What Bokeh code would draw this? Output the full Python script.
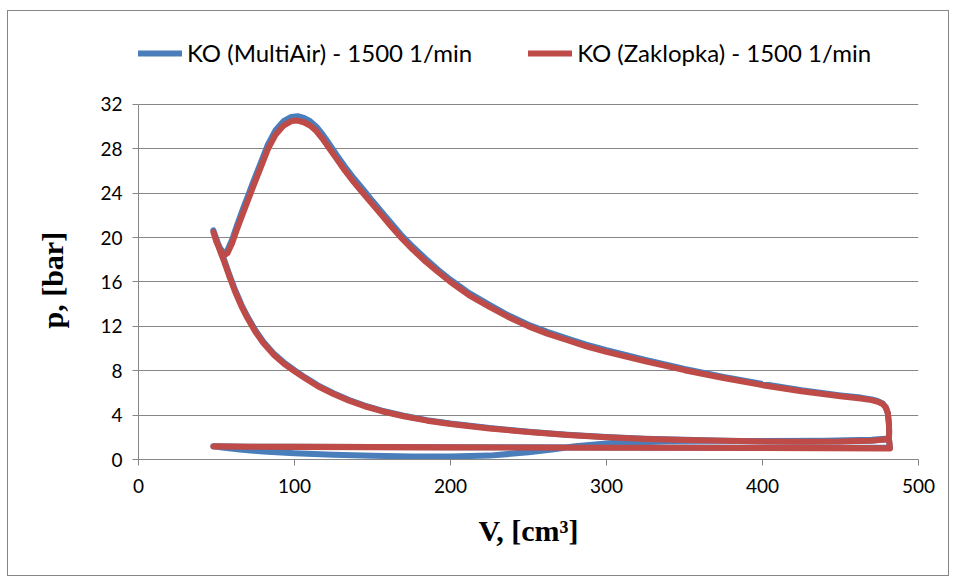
from bokeh.plotting import figure
from bokeh.models import Range1d, FixedTicker, Legend, LegendItem, Title
from bokeh.embed import file_html
from bokeh.resources import INLINE

# ---- data ----
series_names = ["KO (MultiAir) - 1500 1/min", "KO (Zaklopka) - 1500 1/min"]
x_ticks = [0, 100, 200, 300, 400, 500]
y_ticks = [0, 4, 8, 12, 16, 20, 24, 28, 32]

# compression stroke (BDC -> TDC)
comp_V = [481, 478, 470, 450, 425, 400, 375, 350, 325, 300, 275, 252, 225, 200, 185, 170, 156, 145, 135, 125,
          115, 107, 100, 94, 87, 80, 75, 70, 66, 62, 58.5, 55, 52, 50, 48]
comp_p_red = [1.9, 1.8, 1.7, 1.62, 1.6, 1.62, 1.68, 1.75, 1.85, 2.0, 2.2, 2.45, 2.8, 3.2, 3.5, 3.9, 4.35, 4.8, 5.3, 5.9,
              6.6, 7.3, 7.95, 8.55, 9.4, 10.5, 11.5, 12.7, 13.8, 15.1, 16.4, 17.8, 18.9, 19.7, 20.5]
comp_p_blue = [1.9, 1.8, 1.72, 1.64, 1.62, 1.64, 1.7, 1.77, 1.88, 2.03, 2.23, 2.48, 2.83, 3.24, 3.55, 3.95, 4.4, 4.86, 5.36, 5.97,
               6.68, 7.38, 8.04, 8.65, 9.5, 10.62, 11.63, 12.84, 13.95, 15.25, 16.55, 17.95, 19.05, 19.85, 20.65]

# combustion + expansion + blowdown (TDC -> BDC)
exp_V = [48, 50, 52.5, 55, 57, 60, 63, 67, 70, 73.5, 78, 83, 88, 93, 98, 102, 106, 110, 114, 118,
         122, 127, 132, 138, 144, 150, 156, 162, 168, 176, 184, 192, 200, 212, 225, 237, 250, 262, 275, 287,
         300, 325, 350, 375, 400, 425, 450, 463, 470, 474, 477, 479, 480.3, 481, 481.2, 481]
exp_p_red = [20.5, 19.6, 18.8, 18.4, 18.6, 19.5, 20.7, 22.2, 23.3, 24.6, 26.2, 28.0, 29.3, 30.1, 30.5, 30.55, 30.4, 30.1, 29.6, 28.9,
             28.1, 27.1, 26.1, 25.0, 24.0, 23.0, 22.0, 21.0, 20.05, 18.9, 17.85, 16.9, 16.0, 14.8, 13.75, 12.85, 12.0, 11.35, 10.75, 10.2,
             9.7, 8.85, 8.05, 7.35, 6.7, 6.15, 5.7, 5.5, 5.35, 5.2, 5.0, 4.7, 4.2, 3.3, 2.5, 1.9]
exp_p_blue = [20.65, 19.75, 19.0, 18.6, 18.85, 19.8, 21.05, 22.6, 23.7, 25.0, 26.6, 28.4, 29.7, 30.5, 30.88, 30.95, 30.8, 30.5, 30.0, 29.3,
              28.5, 27.45, 26.45, 25.35, 24.35, 23.3, 22.3, 21.3, 20.3, 19.15, 18.1, 17.1, 16.2, 15.0, 13.95, 13.0, 12.15, 11.5, 10.9, 10.35,
              9.85, 8.98, 8.17, 7.45, 6.8, 6.24, 5.78, 5.58, 5.42, 5.26, 5.05, 4.72, 4.2, 3.3, 2.5, 1.9]

# exhaust stroke (BDC -> TDC)
exh_V = [481.5, 481.7, 450, 400, 350, 300, 250, 200, 150, 100, 70, 48]
exh_p_red = [1.3, 1.02, 1.03, 1.04, 1.05, 1.07, 1.09, 1.1, 1.12, 1.14, 1.15, 1.17]
exh_p_blue = [1.3, 1.05, 1.06, 1.07, 1.08, 1.09, 1.1, 1.11, 1.13, 1.15, 1.16, 1.2]

# intake stroke (TDC -> BDC)
int_V_red = [48, 100, 200, 300, 400, 481.7]
int_p_red = [1.17, 1.13, 1.09, 1.05, 1.03, 1.0]
int_V_blue = [48, 55, 65, 80, 100, 125, 150, 175, 200, 225, 250, 265, 280, 300, 320, 340, 370, 400, 440, 470, 481]
int_p_blue = [1.2, 1.05, 0.9, 0.72, 0.57, 0.42, 0.33, 0.28, 0.27, 0.35, 0.65, 0.9, 1.2, 1.45, 1.6, 1.66, 1.68, 1.66, 1.68, 1.78, 1.9]

V_blue = comp_V + exp_V + exh_V + int_V_blue
p_blue = comp_p_blue + exp_p_blue + exh_p_blue + int_p_blue
V_red = comp_V + exp_V + exh_V + int_V_red
p_red = comp_p_red + exp_p_red + exh_p_red + int_p_red

BLUE = "#4A7EBB"
RED = "#BE4B48"
GRID = "#868686"
TICK_FONT = "Lato"
TITLE_FONT = "Liberation Serif"

# frame extends upward above p=32 so the legend can sit inside it (p=32 lands at the plot top line)
p = figure(width=942, height=566, output_backend="svg", toolbar_location=None,
           x_range=Range1d(0, 500), y_range=Range1d(0, 39.12),
           min_border_left=129, min_border_right=32, min_border_top=14, min_border_bottom=118)
p.styles = {"border": "1px solid #868686", "margin-left": "7px", "margin-top": "10px"}
p.outline_line_color = None
p.background_fill_color = "white"
p.border_fill_color = "white"

r_blue = p.line(V_blue, p_blue, line_color=BLUE, line_width=6, line_join="round", line_cap="round")
r_red = p.line(V_red, p_red, line_color=RED, line_width=6, line_join="round", line_cap="round")

p.xgrid.grid_line_color = None
p.ygrid.grid_line_color = GRID
p.ygrid.grid_line_width = 1
p.ygrid.ticker = FixedTicker(ticks=y_ticks)

for ax in (p.xaxis[0], p.yaxis[0]):
    ax.axis_line_color = GRID
    ax.major_tick_line_color = GRID
    ax.minor_tick_line_color = None
    ax.major_tick_in = 0
    ax.major_tick_out = 6
    ax.major_label_text_font = TICK_FONT
    ax.major_label_text_font_size = "19px"
    ax.major_label_text_color = "black"
p.xaxis[0].ticker = FixedTicker(ticks=x_ticks)
p.yaxis[0].ticker = FixedTicker(ticks=y_ticks)
p.yaxis[0].bounds = (0, 32)
p.xaxis[0].major_label_standoff = 13
p.yaxis[0].major_label_standoff = 10

p.xaxis[0].axis_label = "V, [cm³]"
p.xaxis[0].axis_label_standoff = 18
p.xaxis[0].axis_label_text_font = TITLE_FONT
p.xaxis[0].axis_label_text_font_size = "30px"
p.xaxis[0].axis_label_text_font_style = "bold"
p.xaxis[0].axis_label_text_color = "black"

# y title placed alongside the 0..32 part of the axis
p.add_layout(Title(text="p, [bar]", align="left", offset=131, vertical_align="top", standoff=54,
                   text_font=TITLE_FONT, text_font_size="30px", text_font_style="bold",
                   text_color="black"), "left")

legend = Legend(items=[LegendItem(label=series_names[0], renderers=[r_blue]),
                       LegendItem(label=series_names[1], renderers=[r_red])],
                orientation="horizontal", location=(0, 392),
                glyph_width=44, glyph_height=20, label_standoff=5, spacing=56,
                padding=0, margin=0, border_line_color=None, background_fill_alpha=0,
                label_text_font=TICK_FONT, label_text_font_size="24px", label_text_color="black")
p.add_layout(legend, "center")

open("out.html", "w").write(file_html(p, INLINE))
